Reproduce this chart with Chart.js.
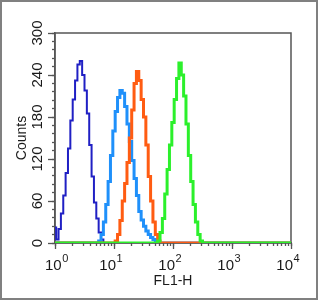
<!DOCTYPE html>
<html>
<head>
<meta charset="utf-8">
<script src="https://cdn.jsdelivr.net/npm/chart.js@4.4.1/dist/chart.umd.min.js"></script>
<style>
    html, body { margin: 0; padding: 0; background: #fff; }
    #frame {
        position: absolute; left: 0; top: 0;
        width: 318px; height: 300px;
        box-sizing: border-box;
        border: 2px solid #808080;
    }
    #wrap { position: relative; width: 314px; height: 296px; }
</style>
</head>
<body>
<div id="frame"><div id="wrap"><canvas id="myChart"></canvas></div></div>
<script>
// histogram channels: 25 per decade, 10^0 .. 10^4
const channelsPerDecade = 25;
const channelCount = 100;

const darkBlueStart = 0;
const darkBlueCounts = [22, 5, 20, 42, 68, 100, 135, 175, 205, 232, 255, 260, 240, 218, 185, 140, 95, 58, 35, 15, 5, 0];

const lightBlueStart = 19;
const lightBlueCounts = [3, 12, 30, 55, 88, 125, 160, 188, 208, 218, 214, 195, 170, 145, 118, 92, 68, 45, 33, 24, 17, 12, 8, 5, 3, 0];

const orangeStart = 26;
const orangeCounts = [3, 12, 32, 60, 85, 115, 150, 190, 228, 245, 232, 205, 180, 140, 95, 60, 30, 12, 3, 0];

const greenStart = 44;
const greenCounts = [3, 15, 35, 70, 105, 140, 172, 205, 235, 257, 240, 210, 170, 125, 88, 55, 30, 12, 3, 0];

const yTickLabels = [0, 60, 120, 180, 240, 300];
const xTickExponents = [0, 1, 2, 3, 4];

const axisColor = "#555555";
const textColor = "#1a1a1a";
const fontFamily = "'Liberation Sans', Arial, Helvetica, sans-serif";

function toPoints(start, counts) {
    let points = [];
    for (let ch = 0; ch <= channelCount; ch++) {
        let i = ch - start;
        let y = i >= 0 && i < counts.length ? counts[i] : 0;
        points.push({ x: Math.pow(10, ch / channelsPerDecade), y: y });
    }
    return points;
}

function serie(label, start, counts, color, width) {
    return {
        label: label,
        data: toPoints(start, counts),
        borderColor: color,
        borderWidth: width,
        pointRadius: 0,
        stepped: "middle",
        fill: false,
    };
}

function isPowerOfTen(v) {
    let e = Math.log10(v);
    return Math.abs(e - Math.round(e)) < 1e-9;
}

function keepWholeMantissa(scale) {
    scale.ticks = scale.ticks.filter((t) => {
        let m = t.value / Math.pow(10, Math.floor(Math.log10(t.value) + 1e-9));
        return Math.abs(m - Math.round(m)) < 1e-6;
    });
}

function tickGrid(len) {
    return {
        drawOnChartArea: false,
        drawTicks: true,
        tickLength: len,
        tickColor: axisColor,
        tickWidth: 1.3,
    };
}

const framePlugin = {
    id: "frame",
    beforeDatasetsDraw(chart) {
        let a = chart.chartArea;
        let ctx = chart.ctx;
        ctx.save();
        ctx.strokeStyle = axisColor;
        ctx.lineWidth = 1.5;
        ctx.strokeRect(a.left, a.top, a.right - a.left, a.bottom - a.top);
        ctx.restore();
    },
    afterDraw(chart) {
        let ctx = chart.ctx;
        let xs = chart.scales.x;
        let ys = chart.scales.y;
        ctx.save();
        ctx.fillStyle = textColor;

        // y labels, rotated
        ctx.font = "15px " + fontFamily;
        ctx.textAlign = "center";
        ctx.textBaseline = "middle";
        yTickLabels.forEach((v) => {
            let py = ys.getPixelForValue(v);
            ctx.save();
            ctx.translate(36, py);
            ctx.rotate(-Math.PI / 2);
            ctx.fillText(String(v), 0, 0);
            ctx.restore();
        });

        // x labels 10^n
        ctx.textAlign = "left";
        ctx.textBaseline = "alphabetic";
        xTickExponents.forEach((e) => {
            let px = xs.getPixelForValue(Math.pow(10, e));
            ctx.font = "15px " + fontFamily;
            let w1 = ctx.measureText("10").width;
            let x0 = Math.max(px - w1 + 2, xs.left - 10);
            ctx.fillText("10", x0, 268);
            ctx.font = "11px " + fontFamily;
            ctx.fillText(String(e), x0 + w1 + 0.5, 260);
        });
        ctx.restore();
    },
};

let ctx = document.getElementById("myChart").getContext("2d");

let myChart = new Chart(ctx, {
    type: "line",
    data: {
        datasets: [
            serie("green", greenStart, greenCounts, "#2cf02c", 3),
            serie("orange", orangeStart, orangeCounts, "#ff5c12", 3),
            serie("light blue", lightBlueStart, lightBlueCounts, "#1f90fa", 3),
            serie("dark blue", darkBlueStart, darkBlueCounts, "#2020c4", 2),
        ],
    },
    options: {
        responsive: true,
        maintainAspectRatio: false,
        animation: false,
        events: [],
        layout: {
            padding: { top: 31, right: 25, left: 0, bottom: 0 },
        },
        plugins: {
            legend: { display: false },
            tooltip: { enabled: false },
        },
        scales: {
            x: {
                type: "logarithmic",
                position: "bottom",
                weight: 1,
                min: 1,
                max: 10000,
                afterBuildTicks: (scale) => {
                    scale.ticks = scale.ticks.filter((t) => isPowerOfTen(t.value));
                },
                afterFit: (scale) => {
                    scale.height = 55;
                },
                ticks: { display: false },
                grid: tickGrid(6),
                border: { display: true, color: axisColor, width: 1.5 },
                title: {
                    display: true,
                    text: "FL1-H",
                    color: textColor,
                    font: { size: 14, family: fontFamily },
                    padding: { top: 0, bottom: 8 },
                },
            },
            xMinor: {
                type: "logarithmic",
                position: "bottom",
                weight: 0,
                min: 1,
                max: 10000,
                afterBuildTicks: keepWholeMantissa,
                afterFit: (scale) => {
                    scale.height = 0;
                },
                ticks: { display: false },
                grid: tickGrid(3),
                border: { display: false },
            },
            y: {
                type: "linear",
                position: "left",
                weight: 1,
                min: 0,
                max: 300,
                afterFit: (scale) => {
                    scale.width = 53;
                },
                ticks: { display: false, stepSize: 60 },
                grid: tickGrid(7),
                border: { display: true, color: axisColor, width: 1.5 },
                title: {
                    display: true,
                    text: "Counts",
                    color: textColor,
                    font: { size: 14, family: fontFamily },
                    padding: { top: 11.5, bottom: 0 },
                },
            },
            yMinor: {
                type: "linear",
                position: "left",
                weight: 0,
                min: 0,
                max: 300,
                afterFit: (scale) => {
                    scale.width = 0;
                },
                ticks: { display: false, stepSize: 12 },
                grid: tickGrid(3),
                border: { display: false },
            },
        },
    },
    plugins: [framePlugin],
});
</script>
</body>
</html>
